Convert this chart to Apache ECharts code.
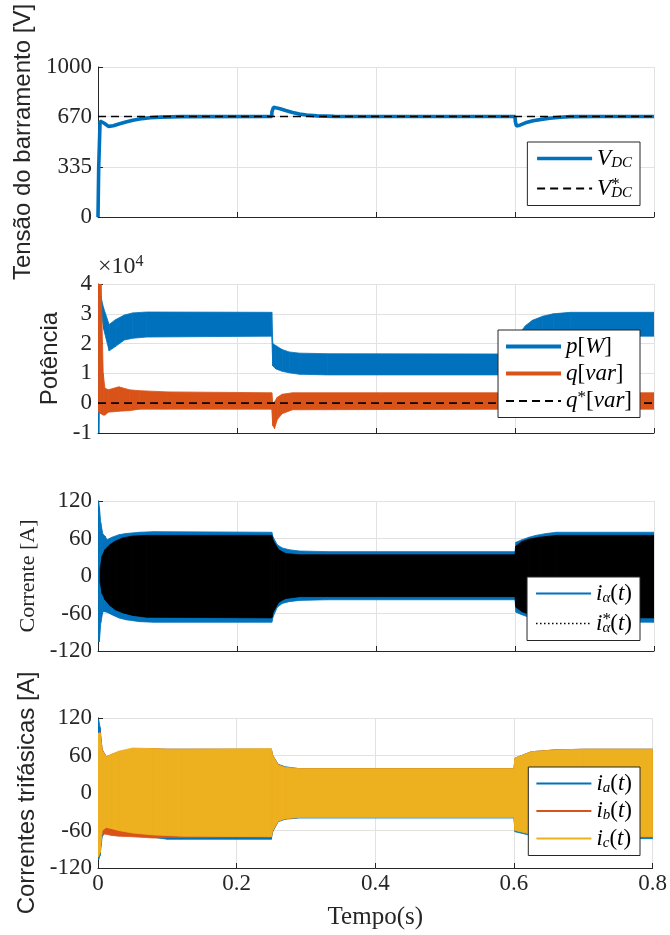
<!DOCTYPE html>
<html><head><meta charset="utf-8">
<script src="https://cdn.jsdelivr.net/npm/echarts@6/dist/echarts.min.js"></script>
<style>html,body{margin:0;padding:0;background:#fff}#c{width:670px;height:935px}</style>
</head><body><div id="c"></div><script>
// ---------- DATA ----------
const xTicks = [0, 0.2, 0.4, 0.6, 0.8];
const y1Ticks = [0, 335, 670, 1000];
// Plot 1: DC bus voltage
const vdcT = [0, 0.001, 0.003, 0.005, 0.009, 0.015, 0.022, 0.03, 0.04, 0.05, 0.06, 0.075, 0.09, 0.12, 0.25, 0.2502, 0.2525, 0.256, 0.262, 0.27, 0.28, 0.29, 0.3, 0.315, 0.34, 0.6, 0.6004, 0.602, 0.607, 0.615, 0.626, 0.638, 0.65, 0.665, 0.68, 0.72, 0.8];
const vdc  = [0, 330, 640, 650, 625, 604, 608, 620, 633, 645, 654, 662, 666, 669, 670, 700, 732, 728, 722, 710, 697, 687, 680, 674, 671, 670, 640, 607, 612, 628, 642, 651, 658, 665, 669, 670, 670];
const vdcRefT = [0, 0.8];
const vdcRef  = [670, 670];
// Plot 2: powers (x1e4), envelopes of the oscillation
const pT  = [0, 0.0012, 0.004, 0.008, 0.016, 0.025, 0.038, 0.05, 0.07, 0.25, 0.2515, 0.256, 0.265, 0.275, 0.29, 0.33, 0.6, 0.605, 0.615, 0.625, 0.64, 0.655, 0.68, 0.8];
const pLo = [-1.1, -1.1, 3.2, 2.5, 1.76, 1.9, 2.12, 2.18, 2.22, 2.25, 1.25, 1.15, 1.07, 1.02, 0.97, 0.95, 0.95, 1.2, 1.55, 1.8, 2.05, 2.18, 2.25, 2.25];
const pHi = [0, 0.5, 3.6, 3.2, 2.64, 2.8, 2.96, 3.03, 3.06, 3.05, 2.0, 1.93, 1.8, 1.72, 1.68, 1.66, 1.65, 2.3, 2.6, 2.78, 2.92, 3.0, 3.05, 3.05];
const qT  = [0, 0.001, 0.004, 0.0075, 0.01, 0.015, 0.03, 0.045, 0.06, 0.1, 0.25, 0.2515, 0.254, 0.258, 0.265, 0.28, 0.6, 0.8];
const qLo = [-0.1, -0.3, -0.35, -0.4, -0.4, -0.3, -0.27, -0.25, -0.2, -0.2, -0.2, -0.75, -0.85, -0.55, -0.35, -0.22, -0.2, -0.2];
const qHi = [0.2, 4.5, 4.5, 1.0, 0.5, 0.45, 0.55, 0.45, 0.42, 0.38, 0.35, 0.0, 0.05, 0.2, 0.3, 0.35, 0.35, 0.35];
const qRefT = [0, 0.8];
const qRef  = [0, 0];
// Plot 3: alpha current and its reference (envelopes)
const iaT  = [0, 0.0008, 0.002, 0.004, 0.007, 0.01, 0.013, 0.02, 0.03, 0.04, 0.06, 0.08, 0.25, 0.252, 0.258, 0.265, 0.275, 0.29, 0.33, 0.6, 0.6015, 0.61, 0.62, 0.63, 0.645, 0.66, 0.8];
const iaLo = [-20, -105, -105, -75, -57, -57, -58, -62, -67, -70, -73, -74, -74, -65, -50, -44, -41, -39, -38, -38, -58, -62, -66, -68, -71, -73, -74];
const iaHi = [30, 120, 110, 85, 67, 64, 58, 62, 66, 68, 70, 71, 70, 62, 50, 45, 42, 40, 39, 39, 54, 58, 62, 65, 68, 70, 70];
const iaRefT  = [0.003, 0.006, 0.01, 0.017, 0.025, 0.036, 0.05, 0.07, 0.25, 0.252, 0.26, 0.27, 0.29, 0.6, 0.6015, 0.61, 0.62, 0.635, 0.66, 0.8];
const iaRefLo = [-10, -28, -38, -47, -54, -59, -63, -66, -67, -58, -42, -36, -33, -33, -50, -57, -61, -64, -66, -67];
const iaRefHi = [12, 32, 42, 50, 56, 61, 64, 65, 65, 57, 42, 36, 34, 34, 48, 55, 59, 62, 65, 65];
// Plot 4: three-phase currents (envelopes)
const phT  = [0, 0.0008, 0.003, 0.006, 0.012, 0.02, 0.03, 0.05, 0.08, 0.1, 0.12, 0.25, 0.252, 0.26, 0.27, 0.29, 0.6, 0.6015, 0.625, 0.66, 0.7, 0.8];
const iAlo = [-10, -107, -100, -70, -60, -61, -62, -66, -71, -74, -74, -74, -62, -46, -42, -40, -40, -62, -68, -72, -73, -73];
const iAhi = [10, 118, 105, 68, 58, 60, 62, 68, 70, 70, 70, 70, 60, 46, 42, 39, 39, 56, 66, 69, 70, 70];
const iBlo = [-10, -100, -95, -65, -66, -68, -69, -70, -72, -71, -71, -70, -60, -45, -41, -39, -39, -58, -66, -69, -70, -70];
const iBhi = [10, 95, 98, 70, 58, 62, 66, 70, 71, 70, 70, 70, 60, 45, 41, 39, 39, 55, 66, 69, 70, 70];
const iClo = [-10, -102, -95, -60, -55, -57, -60, -64, -67, -68, -69, -70, -60, -45, -41, -39, -39, -60, -66, -69, -70, -70];
const iChi = [10, 96, 96, 68, 58, 62, 67, 72, 71, 70, 70, 71, 60, 45, 41, 39, 39, 56, 66, 69, 70, 70];

// ---------- STYLE ----------
const SERIF = 'Liberation Serif';
const SANS = 'Liberation Sans';
const BLUE = '#0072BD', ORANGE = '#D95319', YELLOW = '#EDB120';
const AX = '#262626', GRIDC = '#e2e2e2';
const TICK_FS = 23;

const grids = [
  {left: 98, right: 16, top: 67, height: 150},
  {left: 98, right: 16, top: 284, height: 149},
  {left: 98, right: 16, top: 501, height: 150},
  {left: 98, right: 16, top: 718, height: 150}
];

function xAx(i, last) {
  return {
    type: 'value', gridIndex: i, min: xTicks[0], max: xTicks[xTicks.length - 1], interval: xTicks[1] - xTicks[0],
    axisLine: {show: true, onZero: false, lineStyle: {color: AX, width: 1}},
    axisTick: {show: true, inside: true, length: 5, lineStyle: {color: AX}},
    axisLabel: {show: last, color: AX, fontFamily: SERIF, fontSize: TICK_FS, margin: 4, formatter: v => String(v)},
    splitLine: {show: true, lineStyle: {color: GRIDC, width: 1}},
    name: last ? 'Tempo(s)' : '', nameLocation: 'middle', nameGap: 37,
    nameTextStyle: {fontFamily: SERIF, fontSize: 25, color: AX}
  };
}
function yAx(i, min, max, interval, name, nameFont, nameSize, nameGap) {
  return {
    type: 'value', gridIndex: i, min, max, interval,
    axisLine: {show: true, onZero: false, lineStyle: {color: AX, width: 1}},
    axisTick: {show: true, inside: true, length: 5, lineStyle: {color: AX}},
    axisLabel: {color: AX, fontFamily: SERIF, fontSize: TICK_FS, margin: 6, formatter: v => String(v)},
    splitLine: {show: true, lineStyle: {color: GRIDC, width: 1}},
    name, nameLocation: 'middle', nameGap,
    nameTextStyle: {fontFamily: nameFont, fontSize: nameSize, color: AX}
  };
}

function pairs(T, V) { return T.map((t, k) => [t, V[k]]); }

function band(i, T, LO, HI, color, z) {
  const data = [];
  for (let k = 0; k < T.length - 1; k++) data.push([T[k], LO[k], HI[k], T[k + 1], LO[k + 1], HI[k + 1]]);
  return {
    type: 'custom', xAxisIndex: i, yAxisIndex: i, data, clip: true, silent: true, z,
    encode: {x: [0, 3], y: [1, 2, 4, 5]},
    renderItem(params, api) {
      const a = api.coord([api.value(0), api.value(2)]);
      const b = api.coord([api.value(3), api.value(5)]);
      const c = api.coord([api.value(3), api.value(4)]);
      const d = api.coord([api.value(0), api.value(1)]);
      return {type: 'polygon', shape: {points: [a, b, c, d]}, style: {fill: color, stroke: color, lineWidth: 0.8}};
    }
  };
}
function legendLine(i, name, color, width, type) {
  return {type: 'line', name, xAxisIndex: i, yAxisIndex: i, data: [], symbol: 'none',
          lineStyle: {color, width, type}, itemStyle: {color}};
}

const labels = {
  'VDC': '{m|V}{s|DC}',
  'VDCref': '{m|V}{u|*}{s|DC}',
  'p': '{m|p}{r|[}{m|W}{r|]}',
  'q': '{m|q}{r|[}{m|var}{r|]}',
  'qref': '{m|q}{u2|*}{r|[}{m|var}{r|]}',
  'ial': '{m|i}{s|α}{r|(}{m|t}{r|)}',
  'ialref': '{m|i}{u|*}{s|α}{r|(}{m|t}{r|)}',
  'ia': '{m|i}{s|a}{r|(}{m|t}{r|)}',
  'ib': '{m|i}{s|b}{r|(}{m|t}{r|)}',
  'ic': '{m|i}{s|c}{r|(}{m|t}{r|)}'
};
const rich = {
  m: {fontFamily: SERIF, fontStyle: 'italic', fontSize: 23, lineHeight: 24, color: '#000'},
  r: {fontFamily: SERIF, fontSize: 23, lineHeight: 24, color: '#000'},
  s: {fontFamily: SERIF, fontStyle: 'italic', fontSize: 15, lineHeight: 12, verticalAlign: 'bottom', color: '#000'},
  u: {fontFamily: SERIF, fontSize: 17, lineHeight: 14, verticalAlign: 'top', width: 0, color: '#000'},
  u2: {fontFamily: SERIF, fontSize: 17, lineHeight: 14, verticalAlign: 'top', color: '#000'}
};
function legend(top, items, gap, padL) {
  return {
    orient: 'vertical', right: 30, top, itemWidth: 55, itemHeight: 14, itemGap: gap,
    data: items.map(([name, w]) => ({name, lineStyle: {width: w}})),
    padding: [5, 8, 5, padL], borderColor: AX, borderWidth: 1, backgroundColor: '#fff',
    selectedMode: false, formatter: n => labels[n], z: 20,
    itemStyle: {opacity: 0, color: 'rgba(0,0,0,0)', borderColor: 'rgba(0,0,0,0)', borderWidth: 0},
    textStyle: {rich, fontFamily: SERIF, fontSize: 23, color: '#000'}
  };
}

const option = {
  animation: false,
  backgroundColor: '#fff',
  grid: grids,
  xAxis: [xAx(0, false), xAx(1, false), xAx(2, false), xAx(3, true)],
  yAxis: [
    yAx(0, y1Ticks[0], y1Ticks[3], y1Ticks[1] - y1Ticks[0], 'Tensão do barramento [V]', SANS, 24, 58),
    yAx(1, -1, 4, 1, 'Potência', SANS, 24, 33),
    yAx(2, -120, 120, 60, 'Corrente [A]', SERIF, 22, 58),
    yAx(3, -120, 120, 60, 'Correntes trifásicas [A]', SANS, 24, 58)
  ],
  legend: [
    legend(142, [['VDC', 3.5], ['VDCref', 1.8]], 6, 8),
    legend(330, [['p', 4], ['q', 4], ['qref', 1.8]], 4, 6),
    legend(577, [['ial', 2], ['ialref', 1.5]], 6, 8),
    legend(767, [['ia', 2.2], ['ib', 2.2], ['ic', 2.2]], 4, 7)
  ],
  graphic: [{
    type: 'text', left: 98, top: 254, silent: true,
    style: {text: '{a|×10}{b|4}', fill: AX,
      rich: {a: {fontFamily: SERIF, fontSize: 24, lineHeight: 26, fill: AX},
             b: {fontFamily: SERIF, fontSize: 16, lineHeight: 12, verticalAlign: 'top', fill: AX}}}
  }],
  series: [
    {type: 'line', name: 'VDC', xAxisIndex: 0, yAxisIndex: 0, data: pairs(vdcT, vdc), symbol: 'none',
     lineStyle: {color: BLUE, width: 3.6}, itemStyle: {color: BLUE}, z: 2},
    {type: 'line', name: 'VDCref', xAxisIndex: 0, yAxisIndex: 0, data: pairs(vdcRefT, vdcRef), symbol: 'none',
     lineStyle: {color: '#000', width: 1.7, type: [8, 5]}, itemStyle: {color: '#000'}, z: 3},

    legendLine(1, 'p', BLUE, 4, 'solid'),
    legendLine(1, 'q', ORANGE, 4, 'solid'),
    band(1, pT, pLo, pHi, BLUE, 2),
    band(1, qT, qLo, qHi, ORANGE, 3),
    {type: 'line', name: 'qref', xAxisIndex: 1, yAxisIndex: 1, data: pairs(qRefT, qRef), symbol: 'none',
     lineStyle: {color: '#000', width: 1.7, type: [8, 5]}, itemStyle: {color: '#000'}, z: 4},

    legendLine(2, 'ial', BLUE, 2, 'solid'),
    legendLine(2, 'ialref', '#000', 1.5, [1.5, 2.5]),
    band(2, iaT, iaLo, iaHi, BLUE, 2),
    band(2, iaRefT, iaRefLo, iaRefHi, '#000', 3),

    legendLine(3, 'ia', BLUE, 2.2, 'solid'),
    legendLine(3, 'ib', ORANGE, 2.2, 'solid'),
    legendLine(3, 'ic', YELLOW, 2.2, 'solid'),
    band(3, phT, iAlo, iAhi, BLUE, 2),
    band(3, phT, iBlo, iBhi, ORANGE, 3),
    band(3, phT, iClo, iChi, YELLOW, 4)
  ]
};
const chart = echarts.init(document.getElementById('c'), null, {renderer: 'canvas'});
chart.setOption(option);
</script></body></html>
